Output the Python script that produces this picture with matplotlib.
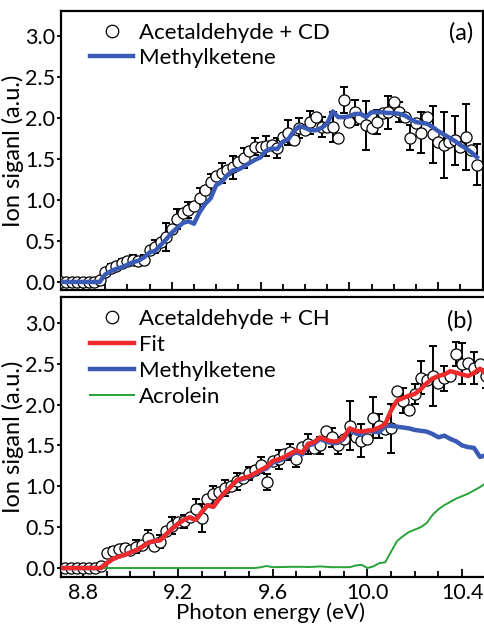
import numpy as np
import matplotlib
matplotlib.use('Agg')
import matplotlib.pyplot as plt
from matplotlib.lines import Line2D
from matplotlib.ticker import MultipleLocator

plt.rcParams['font.family'] = ['Lato', 'DejaVu Sans']

# photon energy grids (eV)
energy_a = np.round(np.arange(8.70, 10.5751, 0.025), 3)
energy_b = np.round(np.arange(8.70, 10.5001, 0.025), 3)

# (a) acetaldehyde + CD
signal_a = [0, 0, 0, 0, 0, 0, 0, 0.02,
            0.12, 0.17, 0.19, 0.23, 0.25, 0.27, 0.26, 0.27,
            0.39, 0.43, 0.49, 0.55, 0.65, 0.77, 0.84, 0.88,
            0.93, 1.02, 1.12, 1.22, 1.29, 1.33, 1.36, 1.40,
            1.46, 1.51, 1.60, 1.65, 1.64, 1.66, 1.67, 1.63,
            1.77, 1.82, 1.73, 1.88, 1.85, 1.95, 2.01, 1.89,
            1.89, 1.89, 1.76, 2.22, 1.95, 2.07, 2.00, 1.91,
            1.88, 1.95, 2.06, 2.07, 2.20, 2.07, 2.01, 1.76,
            1.94, 1.82, 2.01, 1.80, 1.71, 1.67, 1.71, 1.73,
            1.65, 1.77, 1.61, 1.43]
err_a = [0, 0, 0, 0, 0, 0, 0, 0,
         0, 0.05, 0, 0.05, 0, 0.06, 0, 0.06,
         0, 0.08, 0, 0.17, 0, 0.12, 0, 0.10,
         0, 0.12, 0, 0.10, 0, 0.12, 0, 0.14,
         0, 0.12, 0, 0.10, 0, 0.12, 0, 0.12,
         0, 0.15, 0, 0.12, 0, 0.14, 0, 0.12,
         0, 0.18, 0, 0.16, 0, 0.15, 0, 0.30,
         0, 0.15, 0, 0.20, 0, 0.12, 0, 0.15,
         0, 0.25, 0, 0.35, 0, 0.40, 0, 0.30,
         0, 0.40, 0, 0.25]
methylketene_a = [0, 0, 0, 0, 0, 0, 0, 0,
                  0.09, 0.13, 0.16, 0.18, 0.21, 0.24, 0.26, 0.30,
                  0.36, 0.38, 0.45, 0.52, 0.60, 0.66, 0.72, 0.74,
                  0.71, 0.85, 0.95, 1.02, 1.18, 1.22, 1.30, 1.36,
                  1.37, 1.41, 1.45, 1.49, 1.52, 1.60, 1.63, 1.62,
                  1.71, 1.74, 1.84, 1.90, 1.88, 1.85, 1.85, 1.88,
                  1.93, 2.08, 2.01, 2.01, 2.02, 2.05, 2.05, 2.01,
                  2.07, 2.07, 2.07, 2.06, 2.06, 2.05, 2.03, 1.99,
                  1.95, 1.94, 1.93, 1.89, 1.84, 1.80, 1.76, 1.72,
                  1.67, 1.63, 1.58, 1.52]

# (b) acetaldehyde + CH
signal_b = [0, 0, 0, 0, 0, 0, 0, 0.02,
            0.18, 0.21, 0.23, 0.24, 0.22, 0.26, 0.28, 0.37,
            0.27, 0.32, 0.45, 0.52, 0.56, 0.57, 0.62, 0.72,
            0.61, 0.85, 0.90, 0.93, 0.98, 1.00, 1.06, 1.10,
            1.16, 1.20, 1.26, 1.05, 1.31, 1.33, 1.40, 1.42,
            1.34, 1.48, 1.52, 1.47, 1.50, 1.68, 1.60, 1.50,
            1.58, 1.74, 1.60, 1.56, 1.58, 1.84, 1.74, 1.70,
            1.71, 2.17, 2.05, 1.93, 2.13, 2.33, 2.30, 2.35,
            2.27, 2.32, 2.35, 2.62, 2.50, 2.51, 2.45, 2.50,
            2.35]
err_b = [0, 0, 0, 0, 0, 0, 0, 0,
         0, 0.05, 0, 0.06, 0, 0.08, 0, 0.10,
         0, 0.08, 0, 0.10, 0, 0.08, 0, 0.12,
         0.17, 0, 0.10, 0, 0.10, 0, 0.10, 0,
         0.08, 0, 0.10, 0.10, 0, 0.12, 0, 0.10,
         0.10, 0, 0.12, 0, 0.10, 0, 0.12, 0.10,
         0, 0.30, 0, 0.20, 0, 0.25, 0.15, 0,
         0.30, 0, 0.15, 0, 0.12, 0.20, 0, 0.37,
         0, 0.15, 0, 0.15, 0.25, 0, 0.20, 0,
         0.15]
fit_b = [0, 0, 0, 0, 0, 0, 0, 0,
         0.06, 0.11, 0.14, 0.16, 0.19, 0.22, 0.26, 0.31,
         0.33, 0.34, 0.41, 0.48, 0.54, 0.59, 0.62, 0.59,
         0.68, 0.77, 0.75, 0.85, 0.93, 1.00, 1.08, 1.10,
         1.12, 1.16, 1.20, 1.24, 1.31, 1.33, 1.36, 1.40,
         1.44, 1.41, 1.52, 1.54, 1.60, 1.57, 1.55, 1.55,
         1.60, 1.71, 1.68, 1.67, 1.68, 1.69, 1.72, 1.76,
         1.93, 2.05, 2.08, 2.11, 2.13, 2.19, 2.26, 2.32,
         2.35, 2.37, 2.41, 2.39, 2.37, 2.35, 2.39, 2.44,
         2.38]
methylketene_b = [0, 0, 0, 0, 0, 0, 0, 0,
                  0.06, 0.11, 0.14, 0.16, 0.19, 0.22, 0.26, 0.31,
                  0.33, 0.34, 0.41, 0.48, 0.54, 0.59, 0.62, 0.59,
                  0.68, 0.77, 0.75, 0.85, 0.93, 1.00, 1.07, 1.09,
                  1.11, 1.15, 1.19, 1.22, 1.29, 1.31, 1.34, 1.38,
                  1.42, 1.39, 1.50, 1.52, 1.58, 1.55, 1.53, 1.53,
                  1.58, 1.70, 1.65, 1.63, 1.68, 1.67, 1.66, 1.74,
                  1.74, 1.73, 1.72, 1.71, 1.69, 1.68, 1.67, 1.64,
                  1.60, 1.62, 1.58, 1.55, 1.50, 1.48, 1.47, 1.36,
                  1.38]
acrolein_b = [np.nan] * 7 + [0] * 25 + [
              0, 0, 0.01, 0.025,
              0.01, 0.012, 0.012, 0.015, 0.015, 0.015, 0.012, 0.015,
              0.02, 0.015, 0.01, 0.01,
              0.01, 0.01, 0.03, 0.04, 0.0, 0.02, 0.06, 0.07,
              0.20, 0.33, 0.39, 0.44, 0.47, 0.50, 0.55, 0.65,
              0.72, 0.77, 0.81, 0.85, 0.88, 0.91, 0.95, 0.99,
              1.04]

BLUE = '#3a5bb5'
RED = '#ee2a2a'
GREEN = '#27a33a'
FS_LEG = 16
FS_TICK = 15.5
FS_LAB = 16


def draw_points(ax, x, y, err):
    x = np.asarray(x)
    y = np.asarray(y)
    err = np.asarray(err)
    m = err > 0
    ax.errorbar(x[m], y[m], yerr=err[m], fmt='none', ecolor='k',
                elinewidth=1.4, capsize=3.2, capthick=1.4, zorder=2)
    ax.plot(x, y, 'o', ms=8, mfc='white', mec='k', mew=0.9, zorder=3)


def style_axes(ax, xlim, ylim):
    ax.set_xlim(*xlim)
    ax.set_ylim(*ylim)
    for s in ax.spines.values():
        s.set_linewidth(1.6)
    ax.xaxis.set_major_locator(MultipleLocator(0.4))
    ax.xaxis.set_minor_locator(MultipleLocator(0.1))
    ax.yaxis.set_major_locator(MultipleLocator(0.5))
    ax.yaxis.set_major_formatter('{x:.1f}')
    ax.tick_params(axis='x', which='major', direction='in', length=6,
                   width=1.3, labelsize=FS_TICK, pad=4)
    ax.tick_params(axis='x', which='minor', direction='in', length=4,
                   width=1.3)
    ax.tick_params(axis='y', direction='out', length=3, width=1.3,
                   labelsize=FS_TICK, pad=1)
    ax.set_ylabel('Ion siganl (a.u.)', fontsize=FS_LAB + 1, labelpad=1)


fig = plt.figure(figsize=(4.85, 6.24), dpi=100)
ax1 = fig.add_axes([0.1258, 0.5353, 0.870, 0.4471])
ax2 = fig.add_axes([0.1258, 0.0753, 0.8804, 0.4487])

# panel (a)
draw_points(ax1, energy_a, signal_a, err_a)
ax1.plot(energy_a, methylketene_a, color=BLUE, lw=3.2, zorder=4)
style_axes(ax1, (8.701, 10.602), (-0.098, 3.305))
ax1.tick_params(axis='x', labelbottom=False)
ax1.text(0.976, 0.92, '(a)', transform=ax1.transAxes, fontsize=FS_LEG + 1,
         ha='right', va='center')
h_a = [Line2D([], [], ls='none', marker='o', ms=9, mfc='white', mec='k', mew=0.9),
       Line2D([], [], color=BLUE, lw=3.2)]
ax1.legend(h_a, ['Acetaldehyde + CD', 'Methylketene'], loc='upper left',
           bbox_to_anchor=(0.04, 1.0), frameon=False, fontsize=FS_LEG,
           handlelength=1.95, handletextpad=0.25, labelspacing=0.2,
           borderaxespad=0.15)

# panel (b)
draw_points(ax2, energy_b, signal_b, err_b)
ax2.plot(energy_b, acrolein_b, color=GREEN, lw=1.4, zorder=4)
ax2.plot(energy_b, methylketene_b, color=BLUE, lw=3.2, zorder=4)
ax2.plot(energy_b, fit_b, color=RED, lw=3.2, zorder=5)
style_axes(ax2, (8.707, 10.509), (-0.11, 3.317))
ax2.set_xlabel('Photon energy (eV)', fontsize=FS_LAB, va='center')
ax2.xaxis.set_label_coords(0.49, -0.128)
ax2.text(0.965, 0.915, '(b)', transform=ax2.transAxes, fontsize=FS_LEG + 1,
         ha='right', va='center')
h_b = [Line2D([], [], ls='none', marker='o', ms=9, mfc='white', mec='k', mew=0.9),
       Line2D([], [], color=RED, lw=3.2),
       Line2D([], [], color=BLUE, lw=3.2),
       Line2D([], [], color=GREEN, lw=1.4)]
ax2.legend(h_b, ['Acetaldehyde + CH', 'Fit', 'Methylketene', 'Acrolein'],
           loc='upper left', bbox_to_anchor=(0.04, 1.0), frameon=False,
           fontsize=FS_LEG, handlelength=1.95, handletextpad=0.25,
           labelspacing=0.27, borderaxespad=0.15)

fig.savefig('out.png', dpi=100)
